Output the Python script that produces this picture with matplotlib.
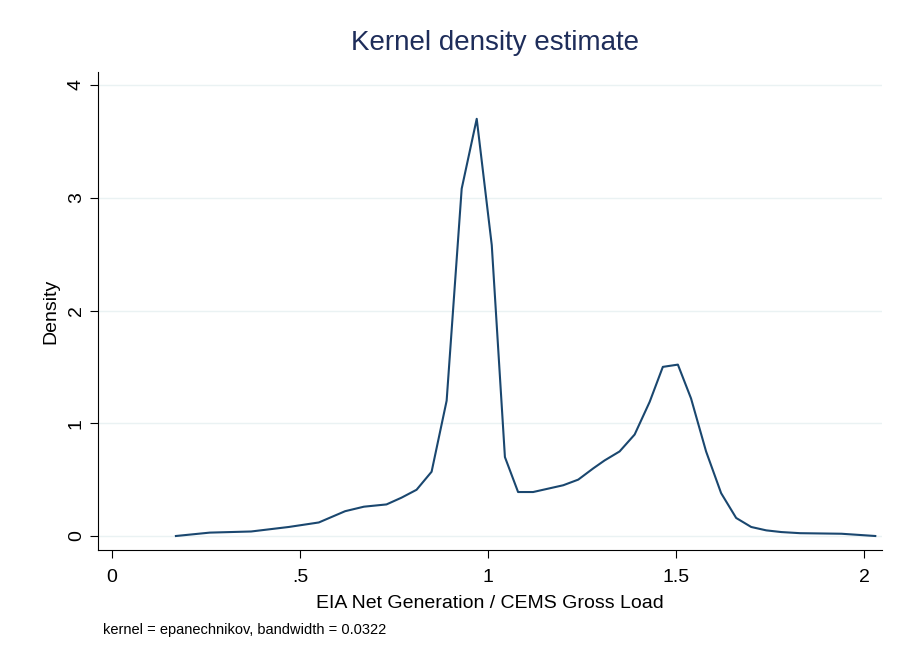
import matplotlib
matplotlib.use("Agg")
import matplotlib.pyplot as plt
plt.rcParams['font.family'] = ['Liberation Sans', 'DejaVu Sans']

x = [0.17,0.26,0.37,0.47,0.55,0.62,0.67,0.73,0.77,0.81,0.85,0.89,0.93,0.97,1.01,1.045,1.08,1.12,1.16,1.20,1.24,1.28,1.31,1.35,1.39,1.43,1.465,1.505,1.54,1.58,1.62,1.66,1.70,1.74,1.78,1.83,1.94,2.03]
y = [0.0,0.03,0.04,0.08,0.12,0.22,0.26,0.28,0.34,0.41,0.57,1.2,3.08,3.7,2.58,0.70,0.39,0.39,0.42,0.45,0.50,0.60,0.67,0.75,0.90,1.19,1.50,1.52,1.22,0.75,0.38,0.16,0.08,0.05,0.035,0.025,0.02,0.0]
xticks = [0, 0.5, 1, 1.5, 2]
xticklabels = ["0", ".5", "1", "1.5", "2"]
yticks = [0, 1, 2, 3, 4]

fig = plt.figure(figsize=(9.03, 6.62), dpi=100)
L, R, T, B = 98, 882, 72, 550
ax = fig.add_axes([L/903, 1-B/662, (R-L)/903, (B-T)/662])
ax.plot(x, y, color="#1a476f", lw=1.5, zorder=3)
ax.set_xlim(-14/376, 2 + 18/376)
ax.set_ylim(-14/112.75, 4 + 13/112.75)
ax.tick_params(length=6, labelsize=14)
ax.tick_params(axis="x", pad=8)
ax.set_xticks(xticks)
ax.set_xticklabels(xticklabels, fontsize=14)
ax.set_yticks(yticks)
ax.set_yticklabels([str(v) for v in yticks], fontsize=14, rotation=90, va="center")
ax.grid(axis="y", color="#eaf2f3", lw=1)
ax.set_axisbelow(True)
for s in ["top", "right"]:
    ax.spines[s].set_visible(False)
ax.set_xlabel("EIA Net Generation / CEMS Gross Load", fontsize=14, labelpad=6)
ax.set_ylabel("Density", fontsize=14, labelpad=6)
fig.text(0.548, 0.925, "Kernel density estimate", ha="center", fontsize=20, color="#1e2d5a")
fig.text(0.114, 0.042, "kernel = epanechnikov, bandwidth = 0.0322", fontsize=10.5)
fig.savefig("out.png", dpi=100)
